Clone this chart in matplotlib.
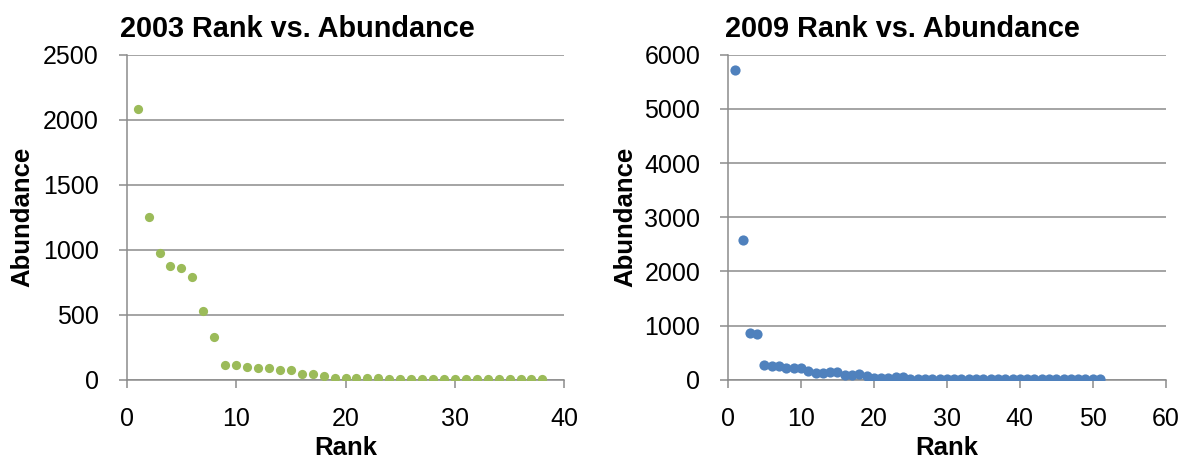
import matplotlib.pyplot as plt
import numpy as np

plt.rcParams['font.family'] = ['Liberation Sans', 'DejaVu Sans']

# 2003 abundances by rank
abund_2003 = [2080, 1255, 975, 875, 860, 790, 530, 325, 115, 115,
              100, 87, 87, 74, 74, 41, 41, 28, 15, 15,
              15, 15, 15, 4, 4, 4, 4, 3, 3, 3,
              3, 3, 3, 3, 3, 3, 3, 3]
# 2009 abundances by rank
abund_2009 = [5720, 2575, 870, 835, 280, 250, 252, 212, 225, 225,
              160, 128, 128, 145, 145, 95, 95, 112, 75, 40,
              40, 40, 52, 52, 15, 15, 15, 15, 15, 15,
              15, 15, 15, 15, 15, 15, 15, 15, 15, 15,
              15, 15, 15, 15, 15, 15, 15, 15, 15, 15,
              15]

rank_2003 = np.arange(1, len(abund_2003) + 1)
rank_2009 = np.arange(1, len(abund_2009) + 1)

grid_col = '#8c8c8c'

fig = plt.figure(figsize=(11.86, 4.59), dpi=100)
ax1 = fig.add_axes([126.7 / 1186, 1 - 379.7 / 459, 437.6 / 1186, 325 / 459])
ax2 = fig.add_axes([728 / 1186, 1 - 379.7 / 459, 437.7 / 1186, 325 / 459])


def style(ax, xmax, ymax, ystep, ylab_x):
    ax.set_xlim(0, xmax)
    ax.set_ylim(0, ymax)
    ax.set_xticks(np.arange(0, xmax + 1, 10))
    ax.set_yticks(np.arange(0, ymax + 1, ystep))
    ax.yaxis.grid(True, color=grid_col, linewidth=1.1)
    ax.set_axisbelow(True)
    for s in ['top', 'right']:
        ax.spines[s].set_visible(False)
    for s in ['left', 'bottom']:
        ax.spines[s].set_color(grid_col)
        ax.spines[s].set_linewidth(1.1)
    ax.tick_params(axis='both', colors=grid_col, labelcolor='black',
                   labelsize=18, length=6, width=1.1, direction='out')
    ax.tick_params(axis='x', pad=14)
    ax.tick_params(axis='y', pad=14)
    ax.set_xlabel('Rank', fontsize=18.5, fontweight='bold', va='baseline')
    ax.xaxis.set_label_coords(0.5, -0.232)
    ax.set_ylabel('Abundance', fontsize=18.5, fontweight='bold', va='center')
    ax.yaxis.set_label_coords(ylab_x, 0.5)


ax1.scatter(rank_2003, abund_2003, s=44, color='#9BBB59', zorder=3, linewidths=0)
style(ax1, 40, 2500, 500, -0.239)

ax2.scatter(rank_2009, abund_2009, s=54, color='#4F81BD', zorder=3, linewidths=0)
style(ax2, 60, 6000, 1000, -0.235)

fig.text(120 / 1186, 1 - 37 / 459, '2003 Rank vs. Abundance', fontsize=20.8,
         fontweight='bold', ha='left', va='baseline')
fig.text(725 / 1186, 1 - 37 / 459, '2009 Rank vs. Abundance', fontsize=20.8,
         fontweight='bold', ha='left', va='baseline')

fig.savefig('out.png', dpi=100)
